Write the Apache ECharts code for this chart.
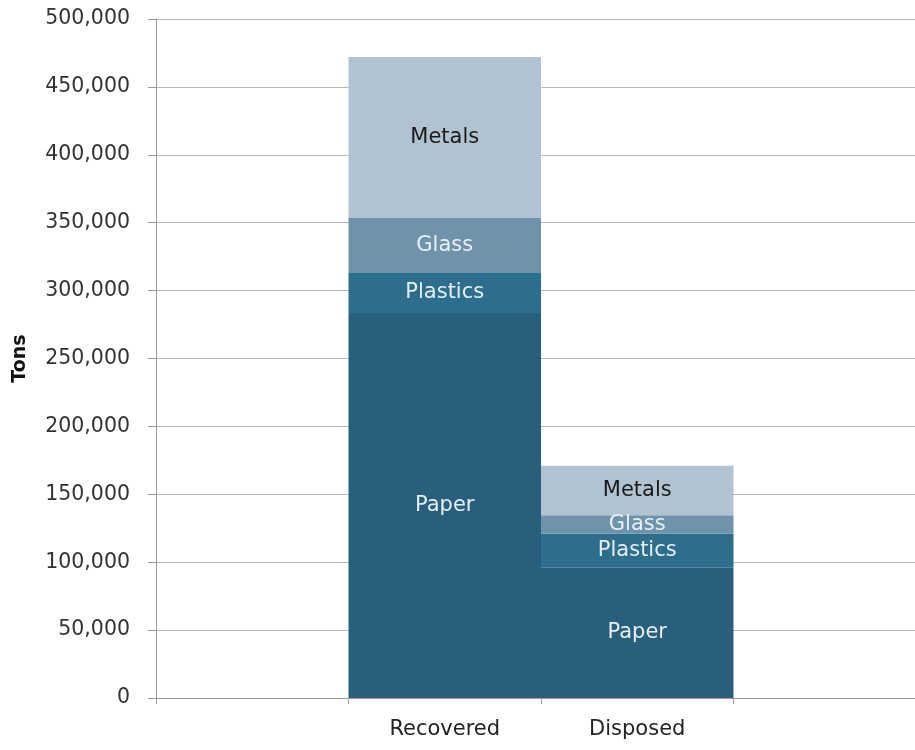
<!DOCTYPE html>
<html>
<head>
<meta charset="utf-8">
<script src="https://cdn.jsdelivr.net/npm/echarts@6/dist/echarts.min.js"></script>
<style>
  html, body { margin: 0; padding: 0; background: #fff; }
  #chart { width: 915px; height: 750px; }
</style>
</head>
<body>
<div id="chart"></div>
<script>
// categories (empty ones pad the axis like the original)
const categories = ['', 'Recovered', 'Disposed', '']
const paper = ['-', 283500, 96000, '-']
const plastics = ['-', 29500, 25000, '-']
const glass = ['-', 40500, 13500, '-']
const metals = ['-', 118500, 36500, '-']

const font = 'DejaVu Sans'

const chart = echarts.init(document.getElementById('chart'))

const mkSeries = (name, data, color, textColor) => ({
  name: name,
  type: 'bar',
  stack: 'total',
  barWidth: '100%',
  data: data,
  itemStyle: { color: color },
  label: {
    show: true,
    position: 'inside',
    formatter: name,
    color: textColor,
    fontFamily: font,
    fontSize: 21,
  },
})

chart.setOption({
  animation: false,
  grid: { left: 156, top: 19, width: 770, height: 679, outerBoundsMode: 'none' },
  xAxis: {
    type: 'category',
    data: categories,
    axisLine: { lineStyle: { color: '#9a9a9a', width: 1 } },
    axisTick: { show: true, length: 6, lineStyle: { color: '#9a9a9a' } },
    axisLabel: { color: '#222', fontFamily: font, fontSize: 21, margin: 21 },
  },
  yAxis: {
    type: 'value',
    min: 0,
    max: 500000,
    interval: 50000,
    name: 'Tons',
    nameLocation: 'middle',
    nameGap: 126,
    nameRotate: 90,
    nameTextStyle: { color: '#111', fontFamily: font, fontWeight: 'bold', fontSize: 19 },
    axisLine: { show: true, lineStyle: { color: '#9a9a9a', width: 1 } },
    axisTick: { show: true, length: 8, lineStyle: { color: '#9a9a9a' } },
    axisLabel: {
      color: '#333',
      fontFamily: font,
      fontSize: 20.5,
      margin: 26,
      formatter: (v) => v.toLocaleString('en-US'),
    },
    splitLine: { lineStyle: { color: '#b8b8b8', width: 1 } },
  },
  series: [
    mkSeries('Paper', paper, '#295f7c', '#e4eef4'),
    mkSeries('Plastics', plastics, '#2e6e8d', '#e4eef4'),
    mkSeries('Glass', glass, '#6f93aa', '#e9f0f5'),
    mkSeries('Metals', metals, '#b1c2d1', '#1a1a1a'),
  ],
})
</script>
</body>
</html>
